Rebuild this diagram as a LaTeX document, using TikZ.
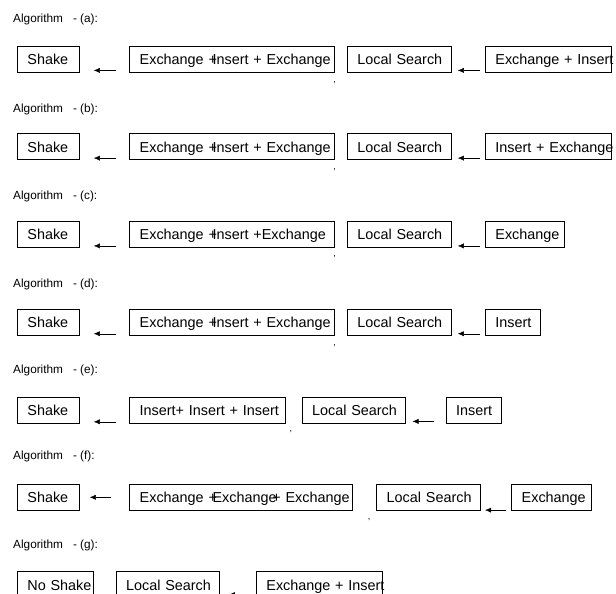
\documentclass[tikz,border=0pt]{standalone}
\usepackage{fontspec}
\setmainfont{Liberation Sans}
\usetikzlibrary{arrows.meta}

\begin{document}
\begin{tikzpicture}[x=1pt, y=-1pt, >={Latex[length=6pt,width=5pt]},
    box/.style={draw, line width=0.8pt, anchor=west, align=left, inner xsep=10pt, inner ysep=0pt, minimum height=26pt, text height=13pt, text depth=2.4pt, font=\fontsize{14.4}{16}\selectfont},
    algo/.style={anchor=west, inner sep=0pt, font=\fontsize{11.8}{13}\selectfont},
    tick/.style={inner sep=0pt, font=\fontsize{9}{10}\selectfont}]

    \useasboundingbox (0,0) rectangle (616,594);

    % (a)
    \draw(13,19) node[algo] (algA) {Algorithm\hspace{10pt}- (a):};
    \draw(17,59) node[box, text width=42pt] (shakeA) {\mbox{Shake}};
    \draw(129.3,59) node[box, text width=184.4pt] (nbhA) {\mbox{Exchange +\kern-.3em Insert + Exchange}};
    \draw(347,59) node[box, text width=84pt] (lsA) {\mbox{Local Search}};
    \draw(485,59) node[box, text width=105.7pt] (pertA) {\mbox{Exchange + Insert}};
    \draw[->] ([shift={(-13pt,2pt)}]nbhA.south west) to ([shift={(14pt,2pt)}]shakeA.south east);
    \draw[->] ([shift={(-5pt,2pt)}]pertA.south west) to ([shift={(6pt,2pt)}]lsA.south east);
    \draw([shift={(0pt,-10pt)}]nbhA.south east) node[tick] (kA) {,};

    % (b)
    \draw(13,109) node[algo] (algB) {Algorithm\hspace{10pt}- (b):};
    \draw(17,146.7) node[box, text width=42pt] (shakeB) {\mbox{Shake}};
    \draw(129.3,146.7) node[box, text width=184.4pt] (nbhB) {\mbox{Exchange +\kern-.3em Insert + Exchange}};
    \draw(347,146.7) node[box, text width=84pt] (lsB) {\mbox{Local Search}};
    \draw(485,146.7) node[box, text width=105.7pt] (pertB) {\mbox{Insert + Exchange}};
    \draw[->] ([shift={(-13pt,2pt)}]nbhB.south west) to ([shift={(14pt,2pt)}]shakeB.south east);
    \draw[->] ([shift={(-5pt,2pt)}]pertB.south west) to ([shift={(6pt,2pt)}]lsB.south east);
    \draw([shift={(0pt,-9pt)}]nbhB.south east) node[tick] (kB) {,};

    % (c)
    \draw(13,196.7) node[algo] (algC) {Algorithm\hspace{10pt}- (c):};
    \draw(17,234.5) node[box, text width=42pt] (shakeC) {\mbox{Shake}};
    \draw(129.3,234.5) node[box, text width=184.4pt] (nbhC) {\mbox{Exchange +\kern-.3em Insert +Exchange}};
    \draw(347,234.5) node[box, text width=84pt] (lsC) {\mbox{Local Search}};
    \draw(485,234.5) node[box, text width=59.3pt] (pertC) {\mbox{Exchange}};
    \draw[->] ([shift={(-13pt,2pt)}]nbhC.south west) to ([shift={(14pt,2pt)}]shakeC.south east);
    \draw[->] ([shift={(-5pt,2pt)}]pertC.south west) to ([shift={(6pt,2pt)}]lsC.south east);
    \draw([shift={(0pt,-9pt)}]nbhC.south east) node[tick] (kC) {,};

    % (d)
    \draw(13,284) node[algo] (algD) {Algorithm\hspace{10pt}- (d):};
    \draw(17,322.3) node[box, text width=42pt] (shakeD) {\mbox{Shake}};
    \draw(129.3,322.3) node[box, text width=184.4pt] (nbhD) {\mbox{Exchange +\kern-.3em Insert + Exchange}};
    \draw(347,322.3) node[box, text width=84pt] (lsD) {\mbox{Local Search}};
    \draw(485,322.3) node[box, text width=34.7pt] (pertD) {\mbox{Insert}};
    \draw[->] ([shift={(-13pt,2pt)}]nbhD.south west) to ([shift={(14pt,2pt)}]shakeD.south east);
    \draw[->] ([shift={(-5pt,2pt)}]pertD.south west) to ([shift={(6pt,2pt)}]lsD.south east);
    \draw([shift={(0pt,-9.7pt)}]nbhD.south east) node[tick] (kD) {,};

    % (e)
    \draw(13,370) node[algo] (algE) {Algorithm\hspace{10pt}- (e):};
    \draw(17,410) node[box, text width=42pt] (shakeE) {\mbox{Shake}};
    \draw(129.3,410) node[box, text width=135.7pt] (nbhE) {\mbox{Insert+ Insert + Insert}};
    \draw(301.7,410) node[box, text width=83pt] (lsE) {\mbox{Local Search}};
    \draw(445.7,410) node[box, text width=35pt] (pertE) {\mbox{Insert}};
    \draw[->] ([shift={(-13pt,1.6pt)}]nbhE.south west) to ([shift={(14pt,1.6pt)}]shakeE.south east);
    \draw[->] ([shift={(-11.7pt,2pt)}]pertE.south west) to ([shift={(7pt,2pt)}]lsE.south east);
    \draw([shift={(5pt,-8pt)}]nbhE.south east) node[tick] (kE) {,};

    % (f)
    \draw(13,456.7) node[algo] (algF) {Algorithm\hspace{10pt}- (f):};
    \draw(17,497.3) node[box, text width=42pt] (shakeF) {\mbox{Shake}};
    \draw(129.3,497.3) node[box, text width=203pt] (nbhF) {\mbox{Exchange +\kern-.3em Exchange\kern-.3em + Exchange}};
    \draw(376.3,497.3) node[box, text width=83.4pt] (lsF) {\mbox{Local Search}};
    \draw(511.3,497.3) node[box, text width=59.7pt] (pertF) {\mbox{Exchange}};
    \draw[->] ([shift={(-18pt,0pt)}]nbhF.west) to ([shift={(10pt,0pt)}]shakeF.east);
    \draw[->] ([shift={(-5.6pt,0.6pt)}]pertF.south west) to ([shift={(4.6pt,0.6pt)}]lsF.south east);
    \draw([shift={(16pt,-9pt)}]nbhF.south east) node[tick] (kF) {,};

    % (g)
    \draw(13,545) node[algo] (algG) {Algorithm\hspace{10pt}- (g):};
    \draw(17,584.7) node[box, text width=56.3pt] (shakeG) {\mbox{No Shake}};
    \draw(115.7,584.7) node[box, text width=83.3pt] (lsG) {\mbox{Local Search}};
    \draw(256,584.7) node[box, text width=105.7pt] (pertG) {\mbox{Exchange + Insert}};
    \draw[->] ([shift={(-5pt,3.5pt)}]pertG.south west) to ([shift={(9pt,3.5pt)}]lsG.south east);

\end{tikzpicture}
\end{document}
